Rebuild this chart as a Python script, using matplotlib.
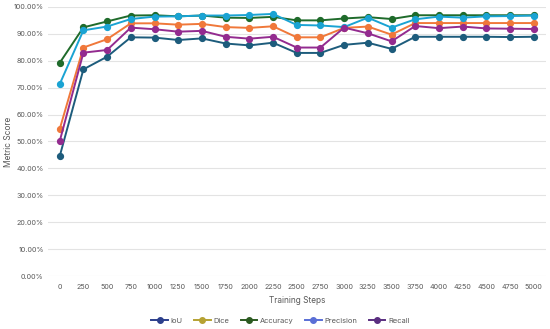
import numpy as np
import matplotlib
matplotlib.use('Agg')
import matplotlib.pyplot as plt
from matplotlib.lines import Line2D

plt.rcParams['font.family'] = ['Inter', 'DejaVu Sans']

# training steps and metric scores (%)
steps = ['0', '250', '500', '750', '1000', '1250', '1500', '1750', '2000', '2250', '2500',
         '2750', '3000', '3250', '3500', '3750', '4000', '4250', '4500', '4750', '5000']
iou = [44.5, 76.8, 81.5, 88.7, 88.6, 87.7, 88.3, 86.4, 85.7, 86.7, 82.9,
       82.9, 85.9, 86.7, 84.4, 88.9, 88.9, 88.9, 88.9, 88.8, 88.9]
dice = [54.6, 84.9, 88.0, 93.9, 93.9, 93.4, 93.7, 92.5, 92.2, 92.8, 88.7,
        88.7, 92.2, 92.7, 89.7, 94.0, 94.0, 94.0, 94.0, 94.0, 94.0]
accuracy = [79.2, 92.4, 94.6, 96.8, 96.9, 96.5, 96.8, 96.0, 95.9, 96.3, 95.0,
            95.0, 95.7, 96.2, 95.5, 96.9, 96.9, 96.9, 96.9, 96.9, 96.9]
precision = [71.3, 91.3, 92.7, 95.5, 96.4, 96.5, 96.8, 96.8, 97.0, 97.4, 93.3,
             93.1, 92.5, 96.0, 92.3, 95.4, 96.4, 96.0, 96.5, 96.6, 96.8]
recall = [50.1, 83.0, 84.0, 92.3, 91.7, 90.8, 91.1, 88.9, 88.2, 88.9, 84.9,
          84.9, 92.3, 90.2, 87.2, 92.9, 92.1, 92.7, 92.0, 91.9, 91.8]

names = ['IoU', 'Dice', 'Accuracy', 'Precision', 'Recall']
series = [iou, dice, accuracy, precision, recall]
line_colors = ['#1d5c7c', '#f0783a', '#1f6b2b', '#1aa3d3', '#932b8f']
legend_colors = ['#2c3f8c', '#b6a233', '#2b5a20', '#5a6fd6', '#5a2e80']

fig = plt.figure(figsize=(5.5, 3.29), dpi=100)
ax = fig.add_axes([0.087, 0.161, 0.905, 0.818])

x = np.arange(len(steps))
for vals, c in zip(series, line_colors):
    ax.plot(x, np.array(vals) / 100, color=c, lw=1.4, marker='o', ms=4.2, zorder=3)

ax.set_ylim(0, 1.0)
ax.set_xlim(-0.5, 20.5)
ax.set_yticks(np.arange(0, 1.01, 0.1))
ax.set_yticklabels(['%.2f%%' % (v * 100) for v in np.arange(0, 1.01, 0.1)])
ax.set_xticks(x)
ax.set_xticklabels(steps)
ax.tick_params(axis='both', length=0, labelsize=5.2, colors='#595959')
ax.tick_params(axis='y', pad=3)
ax.tick_params(axis='x', pad=6)
ax.grid(axis='y', color='#e3e3e3', lw=0.8)
ax.set_axisbelow(True)
for s in ax.spines.values():
    s.set_visible(False)

ax.set_xlabel('Training Steps', fontsize=6, color='#595959', labelpad=4)
fig.text(9 / 550, 0.57, 'Metric Score', rotation=90, fontsize=6, color='#595959',
         ha='center', va='center')

handles = [Line2D([0], [0], color=c, lw=1.4, marker='o', ms=4) for c in legend_colors]
fig.legend(handles, names, loc='center', bbox_to_anchor=(0.51, 0.025), ncol=5,
           frameon=False, fontsize=5.4, labelcolor='#595959', handlelength=2.2,
           handletextpad=0.4, columnspacing=1.5)

fig.savefig('out.png', dpi=100)
